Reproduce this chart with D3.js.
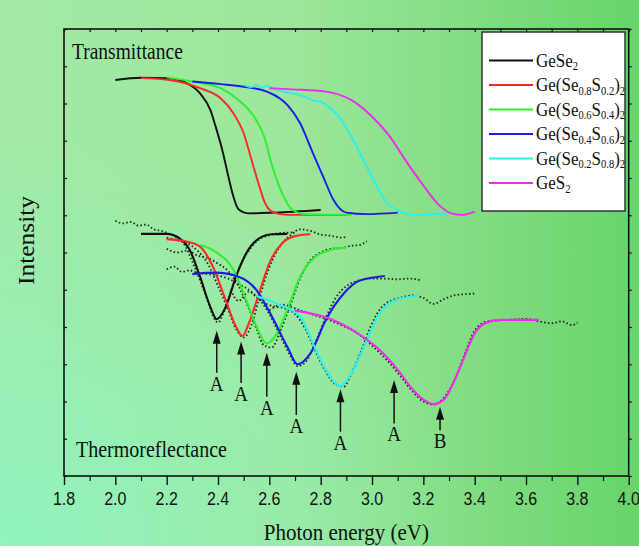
<!DOCTYPE html>
<html lang="en">
  <head>
    <meta charset="utf-8" />
    <title>Transmittance and thermoreflectance</title>
    <script src="https://d3js.org/d3.v7.min.js"></script>
    <style>
      body { margin: 0; }
      svg text { font-family: 'Liberation Serif', 'Times New Roman', serif; fill: #111; }
      .ticklab { font-family: 'Liberation Sans', Arial, sans-serif; }
    </style>
  </head>
  <body>
    <script>
      // series names (with subscripts) and colours
      const seriesNames = [
        [['GeSe'], ['2', 1]],
        [['Ge(Se'], ['0.8', 1], ['S'], ['0.2', 1], [')'], ['2', 1]],
        [['Ge(Se'], ['0.6', 1], ['S'], ['0.4', 1], [')'], ['2', 1]],
        [['Ge(Se'], ['0.4', 1], ['S'], ['0.6', 1], [')'], ['2', 1]],
        [['Ge(Se'], ['0.2', 1], ['S'], ['0.8', 1], [')'], ['2', 1]],
        [['GeS'], ['2', 1]]
      ];
      const seriesColors = ['#111111', '#ff2626', '#2ef02e', '#1c1ce6', '#2af0f0', '#f02af0'];

      // transmittance spectra [eV, intensity]
      const transGeSe2 = [[2.00,10.63],[2.10,10.69],[2.20,10.68],[2.28,10.54],[2.33,10.27],[2.37,9.83],[2.39,9.40],[2.42,8.66],[2.44,8.05],[2.46,7.50],[2.48,7.16],[2.52,7.05],[2.62,7.07],[2.80,7.14]];
      const transSe08 = [[2.10,10.68],[2.21,10.63],[2.33,10.41],[2.41,10.14],[2.46,9.74],[2.50,9.20],[2.53,8.50],[2.56,7.80],[2.58,7.38],[2.61,7.10],[2.67,7.01],[2.90,7.01]];
      const transSe06 = [[2.20,10.70],[2.30,10.59],[2.41,10.41],[2.48,10.09],[2.54,9.65],[2.58,9.11],[2.61,8.35],[2.65,7.59],[2.69,7.14],[2.74,7.03],[2.92,7.01]];
      const transSe04 = [[2.30,10.59],[2.41,10.52],[2.50,10.45],[2.59,10.32],[2.67,9.96],[2.72,9.47],[2.77,8.66],[2.81,8.03],[2.85,7.41],[2.90,7.07],[2.98,7.03],[3.10,7.07]];
      const transSe02 = [[2.50,10.50],[2.53,10.44],[2.55,10.50],[2.57,10.42],[2.59,10.47],[2.62,10.38],[2.69,10.27],[2.74,10.18],[2.77,10.08],[2.80,10.05],[2.84,9.85],[2.87,9.65],[2.92,9.11],[2.96,8.57],[3.00,8.03],[3.05,7.41],[3.11,7.10],[3.17,7.01],[3.29,7.05]];
      const transGeS2 = [[2.60,10.41],[2.69,10.38],[2.82,10.32],[2.92,10.09],[3.00,9.65],[3.07,9.11],[3.13,8.48],[3.20,7.80],[3.26,7.28],[3.31,7.05],[3.35,7.01],[3.40,7.10]];

      // thermoreflectance fits
      const fitGeSe2 = [[2.10,6.50],[2.20,6.50],[2.25,6.38],[2.29,6.07],[2.33,5.35],[2.37,4.54],[2.395,4.21],[2.43,4.54],[2.47,5.35],[2.51,5.98],[2.56,6.38],[2.61,6.49],[2.67,6.50]];
      const fitSe08 = [[2.20,6.36],[2.28,6.29],[2.33,6.16],[2.38,5.62],[2.43,4.72],[2.47,4.01],[2.495,3.76],[2.52,4.10],[2.56,4.90],[2.60,5.71],[2.65,6.25],[2.70,6.44],[2.76,6.49]];
      const fitSe06 = [[2.33,6.20],[2.39,6.02],[2.46,5.53],[2.51,4.72],[2.55,4.01],[2.59,3.56],[2.63,3.83],[2.67,4.46],[2.72,5.35],[2.78,5.89],[2.85,6.09],[2.90,6.13]];
      const fitSe04 = [[2.30,5.42],[2.39,5.46],[2.48,5.35],[2.55,4.99],[2.61,4.28],[2.67,3.47],[2.71,3.00],[2.76,3.29],[2.82,4.19],[2.89,4.90],[2.95,5.24],[3.05,5.37]];
      const fitSe02 = [[2.55,4.83],[2.64,4.59],[2.72,4.28],[2.77,3.56],[2.82,2.85],[2.875,2.42],[2.92,2.76],[2.98,3.65],[3.03,4.37],[3.09,4.72],[3.18,4.84]];
      const fitGeS2 = [[2.70,4.44],[2.80,4.30],[2.87,4.12],[2.95,3.80],[3.03,3.38],[3.10,2.85],[3.16,2.31],[3.20,2.05],[3.24,1.93],[3.28,2.05],[3.31,2.40],[3.35,3.03],[3.40,3.83],[3.44,4.10],[3.50,4.19],[3.65,4.19]];

      // thermoreflectance measured points (dotted)
      const dataGeSe2 = [[2.00,6.85],[2.03,6.78],[2.06,6.82],[2.09,6.72],[2.12,6.75],[2.15,6.62],[2.18,6.58],[2.21,6.50],[2.24,6.40],[2.27,6.20],[2.30,5.75],[2.33,5.25],[2.36,4.70],[2.38,4.30],[2.40,4.12],[2.42,4.35],[2.45,4.95],[2.48,5.55],[2.52,6.05],[2.56,6.35],[2.60,6.46],[2.64,6.52],[2.70,6.54]];
      const dataSe08 = [[2.20,6.40],[2.24,6.33],[2.28,6.25],[2.32,6.05],[2.36,5.70],[2.40,5.10],[2.44,4.45],[2.47,3.95],[2.50,3.72],[2.53,4.05],[2.56,4.75],[2.60,5.60],[2.64,6.15],[2.68,6.45],[2.72,6.62],[2.76,6.58],[2.80,6.48],[2.84,6.45],[2.88,6.40],[2.90,6.42]];
      const dataSe06 = [[2.20,6.10],[2.24,6.00],[2.28,6.05],[2.32,5.92],[2.36,5.85],[2.40,5.70],[2.44,5.50],[2.48,5.10],[2.52,4.50],[2.55,3.95],[2.58,3.50],[2.61,3.45],[2.64,3.85],[2.68,4.55],[2.72,5.30],[2.76,5.80],[2.80,6.00],[2.84,6.10],[2.88,6.12],[2.92,6.18],[2.95,6.20],[2.98,6.30]];
      const dataSe04 = [[2.20,5.55],[2.23,5.62],[2.26,5.48],[2.29,5.52],[2.32,5.45],[2.36,5.42],[2.40,5.38],[2.44,5.30],[2.48,5.15],[2.52,5.00],[2.56,4.75],[2.60,4.35],[2.64,3.80],[2.68,3.25],[2.71,2.95],[2.74,3.05],[2.78,3.60],[2.82,4.25],[2.86,4.80],[2.90,5.10],[2.95,5.25],[3.00,5.30],[3.05,5.30],[3.10,5.28],[3.15,5.30],[3.19,5.25]];
      const dataSe02 = [[2.45,5.00],[2.48,4.70],[2.52,4.95],[2.55,4.80],[2.58,4.65],[2.62,4.55],[2.66,4.50],[2.70,4.35],[2.74,3.95],[2.78,3.35],[2.82,2.80],[2.86,2.45],[2.89,2.40],[2.92,2.75],[2.96,3.40],[3.00,4.10],[3.04,4.55],[3.08,4.72],[3.12,4.80],[3.16,4.85],[3.20,4.78],[3.24,4.62],[3.28,4.75],[3.32,4.85],[3.36,4.88],[3.40,4.90]];
      const dataGeS2 = [[2.60,4.45],[2.65,4.60],[2.70,4.50],[2.76,4.35],[2.82,4.22],[2.88,4.05],[2.94,3.85],[3.00,3.50],[3.06,3.10],[3.12,2.60],[3.16,2.25],[3.20,2.00],[3.24,1.92],[3.28,2.10],[3.32,2.55],[3.36,3.25],[3.40,3.90],[3.45,4.15],[3.50,4.18],[3.55,4.20],[3.60,4.22],[3.65,4.15],[3.70,4.10],[3.74,4.15],[3.78,4.05],[3.80,4.12]];

      const transSeries = [transGeSe2, transSe08, transSe06, transSe04, transSe02, transGeS2];
      const fitSeries = [fitGeSe2, fitSe08, fitSe06, fitSe04, fitSe02, fitGeS2];
      const dataSeries = [dataGeSe2, dataSe08, dataSe06, dataSe04, dataSe02, dataGeS2];

      // transition arrows: energy, arrow tip, tail end, label
      const arrowEnergy = [2.395, 2.49, 2.59, 2.705, 2.877, 3.086, 3.265];
      const arrowTip = [3.90, 3.61, 3.31, 2.80, 2.33, 2.58, 1.86];
      const arrowTail = [2.77, 2.50, 2.13, 1.64, 1.19, 1.41, 1.23];
      const arrowLabel = ['A', 'A', 'A', 'A', 'A', 'A', 'B'];

      // axis ticks
      const xMajor = [1.8, 2.0, 2.2, 2.4, 2.6, 2.8, 3.0, 3.2, 3.4, 3.6, 3.8, 4.0];
      const xMinor = [1.9, 2.1, 2.3, 2.5, 2.7, 2.9, 3.1, 3.3, 3.5, 3.7, 3.9];
      const yTicks = [0, 1, 2, 3, 4, 5, 6, 7, 8, 9, 10, 11, 12];

      const w = 639;
      const h = 546;
      const sy = 1.13; // picture is a bit stretched vertically

      const x = d3.scaleLinear().domain([1.8, 4.0]).range([64, 628.7]);
      const y = d3.scaleLinear().domain([0, 12]).range([476, 29]);

      const svg = d3.select('body').append('svg').attr('width', w).attr('height', h);

      // background
      const defs = svg.append('defs');
      const bg = defs.append('linearGradient').attr('id', 'bg').attr('x1', 0).attr('x2', 1).attr('y1', 0).attr('y2', 0);
      bg.append('stop').attr('offset', '0%').attr('stop-color', '#a2eaa6');
      bg.append('stop').attr('offset', '45%').attr('stop-color', '#9de79c');
      bg.append('stop').attr('offset', '100%').attr('stop-color', '#68d46a');
      const glow = defs.append('radialGradient').attr('id', 'glow')
        .attr('cx', 0).attr('cy', 1).attr('r', 0.75);
      glow.append('stop').attr('offset', '0%').attr('stop-color', '#8ff4c0').attr('stop-opacity', 0.9);
      glow.append('stop').attr('offset', '100%').attr('stop-color', '#8ff4c0').attr('stop-opacity', 0);
      svg.append('rect').attr('width', w).attr('height', h).attr('fill', 'url(#bg)');
      svg.append('rect').attr('width', w).attr('height', h).attr('fill', 'url(#glow)');

      const txt = (sel, tx, ty, str, size, anchor) =>
        sel.append('text')
          .attr('transform', `translate(${tx},${ty}) scale(1,${sy})`)
          .style('font-size', size + 'px')
          .style('text-anchor', anchor || 'start')
          .text(str);

      // axes
      svg.append('g')
        .attr('transform', `translate(0,${y(0)})`)
        .call(d3.axisBottom(x).tickValues(xMajor).tickSize(9).tickFormat(d3.format('.1f')))
        .call(g => g.select('.domain').remove())
        .call(g => g.selectAll('line').attr('stroke', '#111').attr('stroke-width', 1.4))
        .call(g => g.selectAll('text').remove());
      svg.append('g')
        .attr('transform', `translate(0,${y(0)})`)
        .call(d3.axisBottom(x).tickValues(xMinor).tickSize(5).tickFormat(''))
        .call(g => g.select('.domain').remove())
        .call(g => g.selectAll('line').attr('stroke', '#111').attr('stroke-width', 1.2));
      const tl = svg.append('g');
      xMajor.forEach(v => {
        txt(tl, x(v), 505, d3.format('.1f')(v), 16, 'middle').attr('class', 'ticklab');
      });
      svg.append('g')
        .attr('transform', `translate(0,${y(12)})`)
        .call(d3.axisTop(x).tickValues(xMajor.concat(xMinor)).tickSize(-3).tickFormat(''))
        .call(g => g.select('.domain').remove())
        .call(g => g.selectAll('line').attr('stroke', '#111').attr('stroke-width', 1.2));
      svg.append('g')
        .attr('transform', `translate(${x(1.8)},0)`)
        .call(d3.axisLeft(y).tickValues(yTicks).tickSize(-3).tickFormat(''))
        .call(g => g.select('.domain').remove())
        .call(g => g.selectAll('line').attr('stroke', '#111').attr('stroke-width', 1.2));
      svg.append('g')
        .attr('transform', `translate(${x(4.0)},0)`)
        .call(d3.axisRight(y).tickValues(yTicks).tickSize(3).tickFormat(''))
        .call(g => g.select('.domain').remove())
        .call(g => g.selectAll('line').attr('stroke', '#111').attr('stroke-width', 1.2));

      // curves
      const line = d3.line().x(d => x(d[0])).y(d => y(d[1])).curve(d3.curveMonotoneX);

      svg.append('g').selectAll('path').data(transSeries).enter().append('path')
        .attr('d', line).attr('fill', 'none')
        .attr('stroke', (d, i) => seriesColors[i]).attr('stroke-width', 1.9);

      svg.append('g').selectAll('path').data(dataSeries).enter().append('path')
        .attr('d', line).attr('fill', 'none')
        .attr('stroke', '#222').attr('stroke-width', 1.8)
        .attr('stroke-dasharray', '1.5,2.3');

      svg.append('g').selectAll('path').data(fitSeries).enter().append('path')
        .attr('d', line).attr('fill', 'none')
        .attr('stroke', (d, i) => seriesColors[i]).attr('stroke-width', 2.1);

      // arrows
      const arrows = svg.append('g');
      arrowEnergy.forEach((e, i) => {
        const ax = x(e);
        const top = y(arrowTip[i]);
        arrows.append('line')
          .attr('x1', ax).attr('x2', ax)
          .attr('y1', top + 10).attr('y2', y(arrowTail[i]))
          .attr('stroke', '#111').attr('stroke-width', 1.5);
        arrows.append('path')
          .attr('d', `M${ax},${top} L${ax - 4},${top + 13} L${ax + 4},${top + 13} Z`)
          .attr('fill', '#111');
        txt(arrows, ax, y(arrowTail[i]) + 18, arrowLabel[i], 19, 'middle');
      });

      // frame
      svg.append('rect')
        .attr('x', x(1.8)).attr('y', y(12))
        .attr('width', x(4.0) - x(1.8)).attr('height', y(0) - y(12))
        .attr('fill', 'none').attr('stroke', '#111').attr('stroke-width', 1.6);

      // labels
      txt(svg, 72, 59, 'Transmittance', 19.5);
      txt(svg, 76, 456.5, 'Thermoreflectance', 20);
      txt(svg, (x(1.8) + x(4.0)) / 2, 540, 'Photon energy (eV)', 21, 'middle');
      svg.append('text')
        .attr('transform', `translate(34,${(y(0) + y(12)) / 2 - 12}) scale(1,${sy}) rotate(-90)`)
        .style('font-size', '22.5px')
        .style('text-anchor', 'middle')
        .text('Intensity');

      // legend
      const lg = svg.append('g');
      lg.append('rect')
        .attr('x', 482).attr('y', 32).attr('width', 143).attr('height', 179)
        .attr('fill', '#fff').attr('stroke', '#333').attr('stroke-width', 1.5);
      seriesNames.forEach((parts, i) => {
        const ly = 60.5 + i * 24.5;
        lg.append('line')
          .attr('x1', 489).attr('x2', 533).attr('y1', ly).attr('y2', ly)
          .attr('stroke', seriesColors[i]).attr('stroke-width', 2);
        const t = lg.append('text')
          .attr('transform', `translate(536,${ly + 6}) scale(1,${sy})`)
          .style('font-size', '17px');
        let low = false;
        parts.forEach(p => {
          const sub = p[1] === 1;
          t.append('tspan')
            .attr('dy', sub && !low ? 3.5 : !sub && low ? -3.5 : 0)
            .style('font-size', sub ? '10.5px' : '17px')
            .text(p[0]);
          low = sub;
        });
      });
    </script>
  </body>
</html>
